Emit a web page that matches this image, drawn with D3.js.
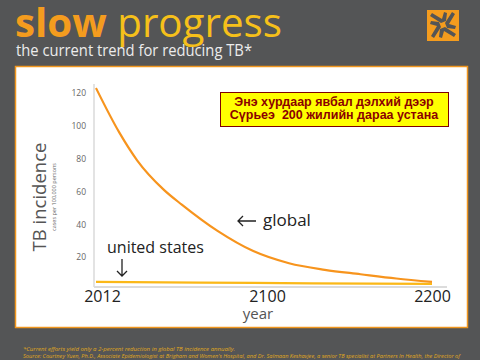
<!DOCTYPE html>
<html>
<head>
<meta charset="utf-8">
<script src="https://cdn.jsdelivr.net/npm/d3@7"></script>
<style>
  html, body { margin: 0; padding: 0; background: #545556; }
  svg { display: block; }
</style>
</head>
<body>
<svg id="vis-svg"></svg>
<script>
// values
const globalYears = [2012, 2025, 2035, 2050, 2060, 2080, 2100, 2120, 2140, 2160, 2180, 2200];
const globalValues = [123, 96, 79, 61, 52, 36, 23.7, 16.3, 12.3, 9.6, 7.0, 4.9];
const usYears = [2012, 2100, 2200];
const usValues = [5.0, 4.3, 3.7];
const yTicks = [20, 40, 60, 80, 100, 120];
const xTickLabels = ["2012", "2100", "2200"];

const svg = d3.select("#vis-svg")
    .attr("width", 480)
    .attr("height", 360);

// title
let title = svg.append("text")
    .attr("x", 15)
    .attr("y", 37)
    .attr("textLength", 267)
    .attr("lengthAdjust", "spacingAndGlyphs")
    .style("font-family", "'Open Sans', sans-serif")
    .style("font-size", "40px");
title.append("tspan").text("slow ").style("font-weight", "bold").style("fill", "#f49c1e");
title.append("tspan").text("progress").style("fill", "#f6c01a");

svg.append("text")
    .attr("x", 16)
    .attr("y", 56)
    .attr("textLength", 236)
    .attr("lengthAdjust", "spacingAndGlyphs")
    .style("font-family", "'Open Sans', sans-serif")
    .style("font-size", "16px")
    .style("fill", "#ececec")
    .text("the current trend for reducing TB*");

// logo (orange square with dark hands pattern)
let logo = svg.append("g").attr("transform", "translate(443,25)");
logo.append("rect").attr("x", -16).attr("y", -15).attr("width", 32).attr("height", 31).style("fill", "#f49c1e");
[0, 90, 180, 270].forEach(a => {
    logo.append("path")
        .attr("d", "M-2,-2 L-13,-9 L-11,-12 L-1,-6 L1,-13 L4,-12 L3,-4 Z")
        .attr("transform", `rotate(${a})`)
        .style("fill", "#545556");
});

// white panel
svg.append("rect")
    .attr("x", 15.5)
    .attr("y", 66.5)
    .attr("width", 452)
    .attr("height", 261)
    .style("fill", "#fff")
    .style("stroke", "#f0961e")
    .style("stroke-width", 1.5);

// scales
let xScale = d3.scaleLinear()
    .domain([2012, 2200])
    .range([96, 432]);

let yScale = d3.scaleLinear()
    .domain([0, 120])
    .range([290, 93]);

// tick labels spread evenly like the original
let xLabelScale = d3.scalePoint()
    .domain(xTickLabels)
    .range([102, 432]);

// y axis
let yAxis = d3.axisLeft(yScale)
    .tickValues(yTicks)
    .tickSize(0)
    .tickPadding(8);

let yG = svg.append("g")
    .attr("class", "yAxis")
    .attr("transform", "translate(94,0)")
    .call(yAxis);
yG.select(".domain").remove();
yG.selectAll("text")
    .style("font-family", "'Open Sans', sans-serif")
    .style("font-size", "8.5px")
    .style("fill", "#666");

svg.append("line")
    .attr("x1", 94).attr("x2", 94)
    .attr("y1", 84).attr("y2", 287)
    .style("stroke", "#d0d0d0")
    .style("stroke-width", 1.2);

// x axis
let xAxis = d3.axisBottom(xLabelScale)
    .tickSize(0)
    .tickPadding(4);

let xG = svg.append("g")
    .attr("class", "xAxis")
    .attr("transform", "translate(0,287)")
    .call(xAxis);
xG.select(".domain").remove();
xG.selectAll("text")
    .style("font-family", "'Open Sans', sans-serif")
    .style("font-size", "16px")
    .style("fill", "#222");

svg.append("line")
    .attr("x1", 94).attr("x2", 447)
    .attr("y1", 287).attr("y2", 287)
    .style("stroke", "#dcdcdc")
    .style("stroke-width", 2);

svg.append("text")
    .attr("x", 258)
    .attr("y", 319)
    .attr("text-anchor", "middle")
    .style("font-family", "'Open Sans', sans-serif")
    .style("font-size", "15px")
    .style("fill", "#555")
    .text("year");

// y axis title
svg.append("text")
    .attr("transform", "translate(46,197) rotate(-90)")
    .attr("text-anchor", "middle")
    .style("font-family", "'Open Sans', sans-serif")
    .style("font-size", "18.5px")
    .style("fill", "#555")
    .text("TB incidence");

svg.append("text")
    .attr("transform", "translate(56,197) rotate(-90)")
    .attr("text-anchor", "middle")
    .style("font-family", "'Open Sans', sans-serif")
    .style("font-size", "5.5px")
    .style("fill", "#666")
    .text("cases per 100,000 persons");

// lines
let line = d3.line()
    .x(d => xScale(d[0]))
    .y(d => yScale(d[1]))
    .curve(d3.curveMonotoneX);

svg.append("path")
    .datum(usYears.map((y, i) => [y, usValues[i]]))
    .attr("d", line)
    .style("fill", "none")
    .style("stroke", "#fbb818")
    .style("stroke-width", 2.2);

svg.append("path")
    .datum(globalYears.map((y, i) => [y, globalValues[i]]))
    .attr("d", line)
    .style("fill", "none")
    .style("stroke", "#f7941d")
    .style("stroke-width", 2.2);

// annotations
let arrowStyle = g => g.style("fill", "none").style("stroke", "#222").style("stroke-width", 1.3);

svg.append("path")
    .attr("d", "M256,221 H238 M243,216 L238,221 L243,226")
    .call(arrowStyle);

svg.append("text")
    .attr("x", 263)
    .attr("y", 226)
    .style("font-family", "'Open Sans', sans-serif")
    .style("font-size", "17px")
    .style("fill", "#222")
    .text("global");

svg.append("text")
    .attr("x", 107)
    .attr("y", 253)
    .style("font-family", "'Open Sans', sans-serif")
    .style("font-size", "16px")
    .style("fill", "#222")
    .text("united states");

svg.append("path")
    .attr("d", "M122,259 V276 M117,271 L122,276 L127,271")
    .call(arrowStyle);

// yellow callout box
svg.append("rect")
    .attr("x", 220.5)
    .attr("y", 92.5)
    .attr("width", 228)
    .attr("height", 34)
    .style("fill", "#ffff00")
    .style("stroke", "#800000")
    .style("stroke-width", 1);

["Энэ хурдаар явбал дэлхий дээр", "Сүрьеэ  200 жилийн дараа устана"].forEach((t, i) => {
    svg.append("text")
        .attr("x", 334)
        .attr("y", 106 + i * 13)
        .attr("text-anchor", "middle")
        .style("font-family", "'Liberation Sans', Arial, sans-serif")
        .style("font-weight", "bold")
        .style("font-size", "12.5px")
        .style("fill", "#8b0000")
        .style("white-space", "pre")
        .text(t);
});

// footnotes
svg.append("text")
    .attr("x", 23)
    .attr("y", 351)
    .style("font-family", "'Open Sans', sans-serif")
    .style("font-style", "italic")
    .style("font-size", "6px")
    .style("fill", "#e0a91c")
    .text("*Current efforts yield only a 2-percent reduction in global TB incidence annually.");

svg.append("text")
    .attr("x", 23)
    .attr("y", 357.5)
    .attr("textLength", 437)
    .attr("lengthAdjust", "spacingAndGlyphs")
    .style("font-family", "'Open Sans', sans-serif")
    .style("font-style", "italic")
    .style("font-size", "6px")
    .style("fill", "#e0a91c")
    .text("Source: Courtney Yuen, Ph.D., Associate Epidemiologist at Brigham and Women's Hospital, and Dr. Salmaan Keshavjee, a senior TB specialist at Partners In Health, the Director of");
</script>
</body>
</html>
